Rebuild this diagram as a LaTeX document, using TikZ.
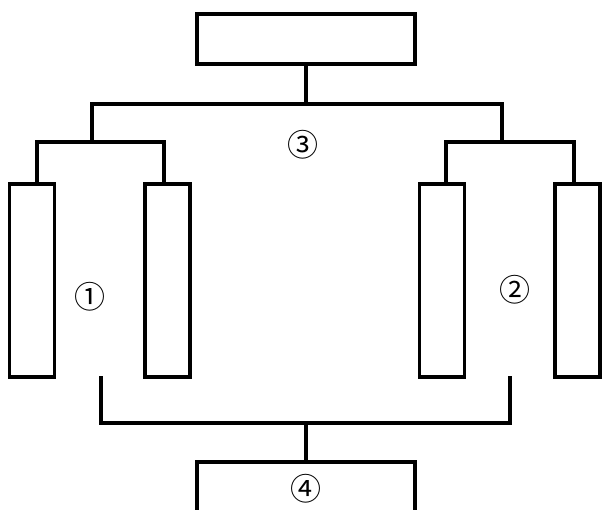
\documentclass[tikz,border=0pt]{standalone}
\usepackage{fontspec}
\newfontfamily\cjk{Noto Sans CJK SC}
\tikzset{
  box/.style={draw=black, line width=3.4pt, fill=none, inner sep=0pt},
  tallbox/.style={box, minimum width=45pt, minimum height=193pt},
  widebox/.style={box, minimum width=218pt, minimum height=50pt},
  conn/.style={draw=black, line width=3.1pt, line cap=rect},
  lbl/.style={font=\cjk\fontsize{31pt}{33pt}\selectfont, inner sep=0pt}
}
\begin{document}
\begin{tikzpicture}[x=1pt,y=-1pt]
\useasboundingbox (0,0) rectangle (603,510);
\clip (0,0) rectangle (603,510);
% boxes
\node[widebox] (top) at (306,39) {};
\node[box, minimum width=218pt, minimum height=80pt] (bot) at (306,502) {};
\node[tallbox] (r1) at (32,280.5) {};
\node[tallbox] (r2) at (167.5,280.5) {};
\node[tallbox] (r3) at (442,280.5) {};
\node[tallbox] (r4) at (577.5,280.5) {};
% top tree
\coordinate (hL) at (92,104);
\coordinate (hR) at (502,104);
\coordinate (aL) at (37,142);
\coordinate (aR) at (164,142);
\coordinate (bL) at (446,142);
\coordinate (bR) at (574,142);
\draw[conn] (top.south) -- (top.south |- hL);
\draw[conn] (hL) -- (hR);
\draw[conn] (hL) -- (hL |- aL);
\draw[conn] (hR) -- (hR |- bL);
\draw[conn] (aL) -- (aR);
\draw[conn] (bL) -- (bR);
\draw[conn] (aL) -- (aL |- r1.north);
\draw[conn] (aR) -- (aR |- r2.north);
\draw[conn] (bL) -- (bL |- r3.north);
\draw[conn] (bR) -- (bR |- r4.north);
% bottom bracket
\coordinate (cL) at (101,378);
\coordinate (cR) at (510,378);
\coordinate (cm) at (306,423);
\draw[conn] (cL) |- (cm) -| (cR);
\draw[conn] (cm) -- (bot.north);
% labels
\node[lbl] (l1) at (90,297) {①};
\node[lbl] (l2) at (515,290) {②};
\node[lbl] (l3) at (303,145) {③};
\node[lbl] (l4) at (306,489) {④};
\end{tikzpicture}
\end{document}
